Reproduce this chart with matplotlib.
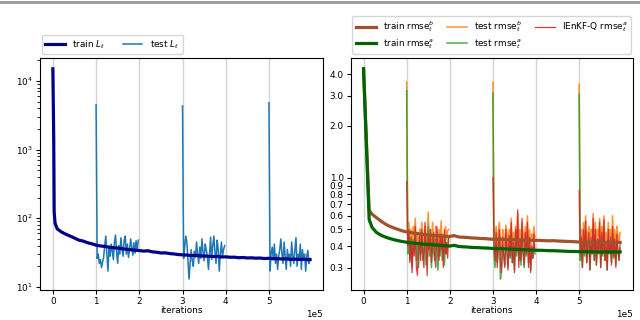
import matplotlib
matplotlib.use('Agg')
import matplotlib.pyplot as plt
import numpy as np
from matplotlib.ticker import NullLocator
from matplotlib.lines import Line2D

plt.rcParams['font.size'] = 6.4
plt.rcParams['font.family'] = 'DejaVu Sans'

# iterations (x 1e5) where the training curves were logged
grid = np.arange(1, 60) / 10.0
it_train_L = np.concatenate([[0.0, 0.02, 0.03, 0.05], grid, [5.95]]) * 1e5
it_train_rmse = np.concatenate([[0.0, 0.13], grid[1:], [5.95]]) * 1e5

train_L = [15000, 1500, 125, 85,
           70, 63, 58.5, 55, 51.5, 48, 46.5, 44, 42.5, 40.5,
           39.5, 38.8, 38, 37.2, 36.8, 36, 35.3, 34.8, 34.2, 33.8,
           33.2, 33.6, 32.4, 32, 31.2, 31.3, 30.6, 30.2, 29.6, 29.3,
           29.1, 28.6, 28.9, 28.3, 28.2, 27.9, 27.7, 27.8, 27.3, 27.4,
           27, 27.1, 26.6, 26.8, 26.4, 26.5, 26.2, 26.3, 25.9, 26.1,
           25.7, 25.8, 25.5, 25.6, 25.2, 25.4, 25.1, 25.3, 24.9,
           25]

train_rmse_b = [4.3, 0.645,
                0.612, 0.585, 0.56, 0.538, 0.522, 0.51, 0.5, 0.49, 0.483,
                0.479, 0.474, 0.471, 0.467, 0.465, 0.462, 0.46, 0.458, 0.456, 0.455,
                0.46, 0.452, 0.45, 0.449, 0.446, 0.445, 0.443, 0.442, 0.44, 0.438,
                0.437, 0.438, 0.436, 0.435, 0.436, 0.434, 0.433, 0.434, 0.432, 0.432,
                0.431, 0.43, 0.429, 0.43, 0.428, 0.427, 0.426, 0.425, 0.424, 0.422,
                0.423, 0.422, 0.421, 0.422, 0.42, 0.421, 0.42, 0.419, 0.42, 0.42]

train_rmse_a = [4.3, 0.57,
                0.512, 0.48, 0.463, 0.452, 0.443, 0.436, 0.43, 0.425, 0.421,
                0.418, 0.415, 0.413, 0.41, 0.409, 0.407, 0.405, 0.403, 0.401, 0.4,
                0.404, 0.398, 0.396, 0.395, 0.393, 0.392, 0.391, 0.39, 0.389, 0.387,
                0.386, 0.386, 0.385, 0.384, 0.383, 0.382, 0.381, 0.38, 0.379, 0.378,
                0.378, 0.377, 0.376, 0.376, 0.375, 0.374, 0.373, 0.372, 0.372, 0.371,
                0.371, 0.37, 0.371, 0.37, 0.369, 0.37, 0.369, 0.37, 0.369, 0.37]

# test segments: (start, end) in iterations
seg_bounds = [(1.0e5, 1.975e5), (3.0e5, 3.975e5), (5.0e5, 5.95e5)]

test_L = [
    [4500, 26, 30, 22, 25, 19, 23, 27, 40, 55, 30, 17, 38, 28, 42, 33, 25, 45, 57, 32,
     22, 40, 30, 52, 36, 28, 48, 55, 30, 42, 27, 35, 50, 38, 29, 44, 31, 47, 34, 48],
    [4300, 26, 38, 55, 45, 25, 13, 22, 35, 24, 20, 33, 27, 45, 30, 22, 38, 26, 50, 32,
     24, 42, 35, 28, 18, 30, 53, 25, 40, 55, 32, 22, 48, 36, 17, 30, 45, 28, 35, 40],
    [4800, 17, 30, 38, 25, 42, 22, 30, 18, 28, 35, 50, 30, 22, 45, 28, 18, 35, 25, 30,
     20, 45, 28, 22, 35, 52, 20, 30, 25, 42, 18, 35, 25, 30, 17, 28, 34, 22, 26],
]

test_rmse_b = [
    [3.6, 0.45, 0.55, 0.42, 0.5, 0.38, 0.52, 0.45, 0.58, 0.4, 0.48, 0.36, 0.5, 0.44, 0.55, 0.4,
     0.47, 0.52, 0.38, 0.46, 0.63, 0.42, 0.5, 0.37, 0.55, 0.45, 0.4, 0.52, 0.48, 0.35, 0.5, 0.43,
     0.56, 0.4, 0.47, 0.38, 0.52, 0.44, 0.49, 0.5],
    [3.6, 0.5, 0.43, 0.52, 0.38, 0.48, 0.55, 0.42, 0.36, 0.5, 0.45, 0.4, 0.53, 0.47, 0.38, 0.5,
     0.44, 0.58, 0.41, 0.48, 0.36, 0.52, 0.45, 0.62, 0.42, 0.5, 0.39, 0.55, 0.46, 0.4, 0.52, 0.44,
     0.6, 0.41, 0.5, 0.37, 0.47, 0.43, 0.52, 0.45],
    [3.5, 0.42, 0.5, 0.38, 0.55, 0.44, 0.6, 0.4, 0.48, 0.52, 0.36, 0.5, 0.45, 0.62, 0.42, 0.55,
     0.4, 0.5, 0.46, 0.58, 0.38, 0.52, 0.44, 0.6, 0.42, 0.48, 0.36, 0.55, 0.45, 0.5, 0.4, 0.6,
     0.43, 0.5, 0.38, 0.52, 0.46, 0.42, 0.48],
]

test_rmse_a = [
    [3.2, 0.36, 0.45, 0.33, 0.42, 0.3, 0.44, 0.37, 0.5, 0.33, 0.4, 0.3, 0.43, 0.36, 0.47, 0.33,
     0.39, 0.44, 0.31, 0.38, 0.52, 0.35, 0.42, 0.3, 0.46, 0.37, 0.33, 0.44, 0.4, 0.29, 0.42, 0.35,
     0.47, 0.33, 0.39, 0.31, 0.44, 0.36, 0.41, 0.45],
    [3.1, 0.36, 0.3, 0.42, 0.32, 0.38, 0.45, 0.257, 0.3, 0.4, 0.35, 0.31, 0.44, 0.37, 0.3, 0.4,
     0.34, 0.47, 0.32, 0.38, 0.29, 0.42, 0.35, 0.5, 0.33, 0.4, 0.31, 0.45, 0.36, 0.3, 0.41, 0.35,
     0.48, 0.32, 0.39, 0.29, 0.37, 0.34, 0.42, 0.36],
    [3.05, 0.33, 0.4, 0.3, 0.44, 0.35, 0.48, 0.32, 0.38, 0.42, 0.29, 0.4, 0.36, 0.5, 0.33, 0.44,
     0.31, 0.4, 0.36, 0.46, 0.3, 0.42, 0.35, 0.48, 0.33, 0.38, 0.29, 0.44, 0.36, 0.4, 0.32, 0.47,
     0.34, 0.4, 0.31, 0.42, 0.37, 0.33, 0.39],
]

ienkf_rmse_a = [
    [0.95, 0.4, 0.5, 0.32, 0.45, 0.28, 0.42, 0.35, 0.52, 0.3, 0.27, 0.38, 0.46, 0.33, 0.5, 0.36,
     0.3, 0.55, 0.42, 0.27, 0.45, 0.38, 0.5, 0.32, 0.4, 0.48, 0.35, 0.3, 0.52, 0.42, 0.33, 0.47,
     0.38, 0.45, 0.3, 0.5, 0.36, 0.42, 0.34, 0.46],
    [1.0, 0.42, 0.33, 0.48, 0.3, 0.4, 0.5, 0.32, 0.28, 0.45, 0.36, 0.3, 0.5, 0.38, 0.29, 0.46,
     0.35, 0.55, 0.32, 0.42, 0.28, 0.5, 0.37, 0.65, 0.3, 0.44, 0.33, 0.58, 0.38, 0.31, 0.48, 0.36,
     0.55, 0.3, 0.45, 0.28, 0.4, 0.34, 0.47, 0.38],
    [0.84, 0.35, 0.45, 0.3, 0.5, 0.38, 0.56, 0.32, 0.42, 0.48, 0.29, 0.45, 0.36, 0.58, 0.33, 0.5,
     0.31, 0.44, 0.38, 0.55, 0.3, 0.48, 0.36, 0.57, 0.33, 0.42, 0.29, 0.5, 0.37, 0.45, 0.31, 0.52,
     0.35, 0.44, 0.3, 0.47, 0.38, 0.33, 0.42],
]

xticks = [0, 1e5, 2e5, 3e5, 4e5, 5e5]
rmse_ticks = [0.3, 0.4, 0.5, 0.6, 0.7, 0.8, 0.9, 1.0, 2.0, 3.0, 4.0]

fig = plt.figure(figsize=(6.4, 3.2), dpi=100)
ax1 = fig.add_axes([0.0625, 0.095, 0.442, 0.723])
ax2 = fig.add_axes([0.548, 0.095, 0.441, 0.723])

# left: loss
ax1.plot(it_train_L, train_L, color='darkblue', lw=2.3, label='train $L_t$', zorder=3)
for k, (a, b) in enumerate(seg_bounds):
    xs = np.linspace(a, b, len(test_L[k]))
    ax1.plot(xs, test_L[k], color='tab:blue', lw=1.1, zorder=2,
             label='test $L_t$' if k == 0 else None)
ax1.set_yscale('log')

# right: rmse
ax2.plot(it_train_rmse, train_rmse_b, color='sienna', lw=2.3, zorder=4,
         label='train rmse$^b_t$')
ax2.plot(it_train_rmse, train_rmse_a, color='darkgreen', lw=2.3, zorder=5,
         label='train rmse$^a_t$')
for k, (a, b) in enumerate(seg_bounds):
    xs = np.linspace(a, b, len(test_rmse_b[k]))
    ax2.plot(xs, test_rmse_b[k], color='tab:orange', lw=1.1, alpha=0.85, zorder=2,
             label='test rmse$^b_t$' if k == 0 else None)
    ax2.plot(xs, test_rmse_a[k], color='tab:green', lw=1.1, alpha=0.85, zorder=2,
             label='test rmse$^a_t$' if k == 0 else None)
    ax2.plot(xs, ienkf_rmse_a[k], color='tab:red', lw=0.9, alpha=0.9, zorder=3,
             label='IEnKF-Q rmse$^a_t$' if k == 0 else None)
ax2.set_yscale('log')
ax2.set_yticks(rmse_ticks)
ax2.set_yticklabels(['%.1f' % v for v in rmse_ticks])
ax2.yaxis.set_minor_locator(NullLocator())

for ax in (ax1, ax2):
    ax.set_xticks(xticks)
    ax.ticklabel_format(axis='x', style='sci', scilimits=(0, 0))
    ax.grid(axis='x', color='lightgray', lw=1)
    ax.set_axisbelow(True)
    ax.set_xlabel('iterations', labelpad=0)
    ax.tick_params(length=3, pad=2)
    ax.xaxis.get_offset_text().set_y(-0.02)

ax1.legend(loc='lower left', bbox_to_anchor=(0, 1.01), ncol=2, handlelength=2.2,
           borderaxespad=0.2, labelspacing=0.3)
ax2.legend(loc='lower left', bbox_to_anchor=(0, 1.01, 1, 0.2), ncol=3, mode='expand',
           handlelength=2.2, borderaxespad=0.2, labelspacing=0.3)

fig.add_artist(Line2D([0, 1], [0.995, 0.995], transform=fig.transFigure,
                      color='#999999', lw=2))

fig.savefig('out.png', dpi=100)
